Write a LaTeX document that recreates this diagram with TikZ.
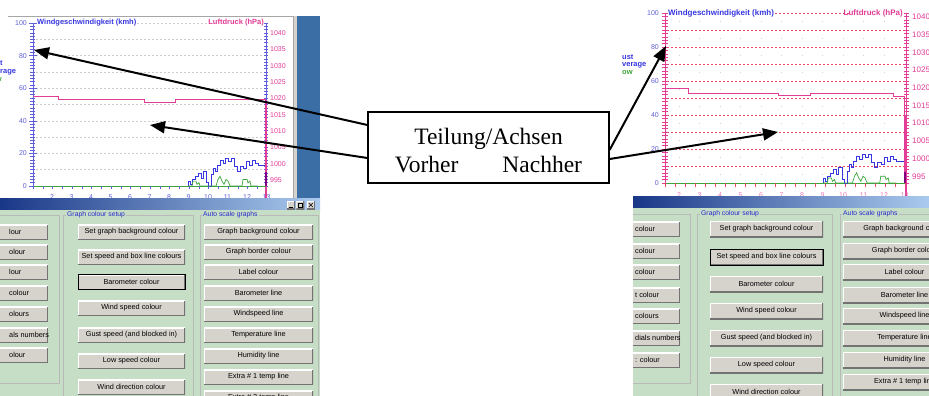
\documentclass[tikz,border=0pt]{standalone}
\usepackage{fontspec}
\setmainfont{Liberation Serif}
\newfontfamily\uifont{Liberation Sans}
\usetikzlibrary{arrows.meta,positioning}

\definecolor{windblue}{RGB}{55,55,225}
\definecolor{labelblue}{RGB}{95,95,215}
\definecolor{presspink}{RGB}{225,60,150}
\definecolor{lowgreen}{RGB}{60,165,60}
\definecolor{gridred}{RGB}{232,70,100}
\definecolor{btnface}{RGB}{214,210,204}
\definecolor{dlggreen}{RGB}{198,221,198}
\definecolor{deskblue}{RGB}{58,110,165}
\definecolor{titledark}{RGB}{25,55,135}
\definecolor{titlelight}{RGB}{170,202,238}
\definecolor{groupblue}{RGB}{40,40,205}

\begin{document}
\begin{tikzpicture}[x=1pt,y=-1pt,
    callout/.style={draw=black,line width=2pt,-{Triangle[length=15pt,width=12pt]}},
    note box/.style={draw=black,line width=1.2pt,fill=white,minimum width=241pt,minimum height=71pt},
    note text/.style={font=\fontsize{23.5}{28}\selectfont,align=center,inner sep=0pt},
    btn/.style={fill=btnface,minimum height=15pt,inner sep=1pt,font=\uifont\fontsize{7.3}{8}\selectfont,
        path picture={\draw[white,line width=2pt] (path picture bounding box.south west) |- (path picture bounding box.north east);
                      \draw[black!55,line width=2pt] (path picture bounding box.south west) -| (path picture bounding box.north east);}},
    focus/.style={draw=black,line width=1pt},
    btn text/.style={font=\uifont\fontsize{7.3}{8}\selectfont,inner sep=0pt},
    group label/.style={fill=dlggreen,text=groupblue,inner sep=1pt,font=\uifont\fontsize{6.8}{8}\selectfont},
    frame/.style={draw=gray!55,line width=.7pt},
    scale label/.style={font=\uifont\fontsize{7}{8}\selectfont,inner sep=0pt},
    chart title/.style={font=\uifont\bfseries\fontsize{7.5}{8}\selectfont,inner sep=1pt},
    grid gray/.style={draw=gray!40,line width=.5pt,dash pattern=on 2pt off 2pt},
    grid red/.style={draw=gridred,line width=.6pt,dash pattern=on 2pt off 2pt},
    axis blue/.style={draw=labelblue,line width=.5pt},
    axis pink/.style={draw=presspink,line width=.5pt},
    press line/.style={draw=presspink,line width=.8pt},
    wind line/.style={draw=windblue,line width=.6pt},
    low line/.style={draw=lowgreen,line width=.7pt},
    ctl/.style={btn,minimum width=8pt,minimum height=8pt,inner sep=0pt}]

\useasboundingbox (0,0) rectangle (929,396);
\fill[white] (0,0) rectangle (929,396);

% ---------- left screenshot (vorher) ----------
\begin{scope}
  \clip (0,0) rectangle (320,396);
  \fill[btnface] (293,16) rectangle (297,198);
  \fill[deskblue] (297,16) rectangle (320,198);
  \draw[gray!70,line width=.8pt] (8,16) -- (293,16) -- (293,198);

  % grid
  \foreach \k in {1,...,9}
    \draw[grid gray] (36,{186-16.3*\k}) -- (265,{186-16.3*\k});
  \draw[grid gray] (137,23) -- (210,23);

  % wind axis
  \draw[axis blue] (33,23) -- (33,186);
  \foreach \k in {0,...,50}
    \draw[axis blue] (30,{186-3.26*\k}) -- (35,{186-3.26*\k});
  \foreach \v [count=\i from 0] in {0,20,...,100} {
    \draw[axis blue] (29,{186-32.6*\i}) -- (37,{186-32.6*\i});
    \node[scale label,text=labelblue,anchor=east] (lwy\i) at (27,{186-32.6*\i}) {\v};
  }

  % pressure axis
  \draw[axis blue] (266,23) -- (266,100);
  \foreach \k in {0,...,50}
    \draw[axis blue] (264,{186-3.26*\k}) -- (268,{186-3.26*\k});
  \draw[presspink,line width=1.5pt] (266,100) -- (266,198);
  \foreach \p [count=\i from 0] in {1040,1035,...,995}
    \node[scale label,text=presspink,anchor=west] (lpy\i) at (270,{33+16.33*\i}) {\p};
  \draw[press line] (33,96) -- (58,96) -- (58,99) -- (144,99) -- (144,102) -- (175,102) -- (175,99) -- (266,99);

  % time axis
  \draw[low line] (33,186) -- (266,186);
  \foreach \k in {0,...,23}
    \draw[axis blue] ({33+9.75*\k},186) -- ({33+9.75*\k},189);
  \foreach \n [count=\i from 0] in {2,...,13}
    \node[scale label,text=labelblue] (lx\n) at ({52+19.5*\i},197) {\n};
  \draw[violet,line width=1.4pt] (266,172) -- (266,186);

  % titles and legend
  \node[chart title,text=windblue,anchor=west] (lwtitle) at (36,23) {Windgeschwindigkeit (kmh)};
  \node[chart title,text=presspink,anchor=east] (lptitle) at (265,23) {Luftdruck (hPa)};
  \node[chart title,text=windblue,anchor=west] (lgust) at (-1,63) {t};
  \node[chart title,text=windblue,anchor=west] (lavg) at (-1,72) {rage};
  \node[chart title,text=lowgreen,anchor=east] (llow) at (3,80) {w};

  % window title bar
  \shade[left color=titledark,right color=titlelight] (0,198) rectangle (320,210);
  \node[ctl] (lmin) at (291,205) {};
  \node[ctl,right=1pt of lmin] (lmax) {};
  \node[ctl,right=2pt of lmax] (lclose) {};
  \draw[black,line width=.8pt] ([shift={(-2pt,-2pt)}]lmin.center) -- ([shift={(1.5pt,-2pt)}]lmin.center);
  \draw[black,line width=.4pt] ([shift={(-2pt,-2pt)}]lmax.center) rectangle ([shift={(2pt,2pt)}]lmax.center);
  \draw[black,line width=.6pt] ([shift={(-2pt,-2pt)}]lclose.center) -- ([shift={(2pt,2pt)}]lclose.center)
                               ([shift={(-2pt,2pt)}]lclose.center) -- ([shift={(2pt,-2pt)}]lclose.center);

  % dialog
  \fill[dlggreen] (0,210) rectangle (320,396);
  \draw[frame] (0,215) -- (59,215) -- (59,383) -- (0,383);
  \draw[frame] (63,400) -- (63,215) -- (193,215) -- (193,400);
  \draw[frame] (200,400) -- (200,215) -- (318,215) -- (318,400);
  \node[group label,anchor=west] (lgraph) at (66,215) {Graph colour setup};
  \node[group label,anchor=west] (lauto) at (202,215) {Auto scale graphs};

  \foreach \y/\t in {232/lour,252/olour,272/lour,293/colour,314/olours,335/als numbers,355/olour} {
    \node[btn,minimum width=60pt,anchor=east] (lb\y) at (48,\y) {};
    \node[btn text,anchor=west] (lbt\y) at (9,\y) {\t};
  }
  \foreach \y/\t in {232/Set graph background colour,257/Set speed and box line colours,
                     308/Wind speed colour,335/Gust speed (and blocked in),361/Low speed colour,387/Wind direction colour}
    \node[btn,minimum width=107pt] (lm\y) at (131.5,\y) {\t};
  \node[btn,focus,minimum width=107pt] (lm282) at (131.5,282) {Barometer colour};
  \foreach \y/\t in {232/Graph background colour,252/Graph border colour,272/Label colour,293/Barometer line,
                     314/Windspeed line,335/Temperature line,356/Humidity line,377/Extra \# 1 temp line,398/Extra \# 2 temp line}
    \node[btn,minimum width=109pt] (la\y) at (258.5,\y) {\t};
\end{scope}

% ---------- right screenshot (nachher) ----------
\begin{scope}
  \clip (618,0) rectangle (929,197);
  % grid
  \foreach \i in {0,...,11}
    \draw[gray!35,line width=.5pt,dash pattern=on 1.5pt off 15.5pt,dash phase=9.25pt] ({679+20.5*\i},13) -- ({679+20.5*\i},183);
  \foreach \k in {1,...,9}
    \draw[grid red] (667,{183-17*\k}) -- (904,{183-17*\k});
  \draw[grid red] (775,13) -- (850,13);

  % wind axis
  \draw[axis pink] (665,13) -- (665,183);
  \foreach \k in {0,...,50}
    \draw[axis pink] (662,{183-3.4*\k}) -- (668,{183-3.4*\k});
  \foreach \v [count=\i from 0] in {0,20,...,100}
    \node[scale label,text=labelblue,anchor=east] (rwy\i) at (659,{183-34*\i}) {\v};

  % pressure axis
  \draw[axis pink] (906,13) -- (906,183);
  \foreach \k in {0,...,50}
    \draw[axis pink] (904,{183-3.4*\k}) -- (909,{183-3.4*\k});
  \draw[presspink,line width=1.5pt] (906,116) -- (906,197);
  \foreach \p [count=\i from 0] in {1040,1035,...,995}
    \node[scale label,text=presspink,anchor=west,font=\uifont\fontsize{8}{9}\selectfont] (rpy\i) at (912,{17+17.7*\i}) {\p};
  \draw[press line] (665,88) -- (688,88) -- (688,93) -- (778,93) -- (778,95) -- (810,95) -- (810,93)
                    -- (893,93) -- (893,96) -- (904,96) -- (904,183);

  % time axis
  \draw[low line] (665,183) -- (905,183);
  \foreach \k in {0,...,24}
    \draw[gridred,line width=.6pt] ({665+10*\k},183) -- ({665+10*\k},187);
  \foreach \n [count=\i from 0] in {2,...,13}
    \node[scale label,text=presspink!70] (rx\n) at ({679+20.5*\i},195) {\n};
  \draw[violet,line width=1.4pt] (905,172) -- (905,183);

  % titles and legend
  \node[chart title,text=windblue,anchor=west,font=\uifont\bfseries\fontsize{8}{9}\selectfont] (rwtitle) at (667,13) {Windgeschwindigkeit (kmh)};
  \node[chart title,text=presspink,anchor=east,font=\uifont\bfseries\fontsize{8}{9}\selectfont] (rptitle) at (904,13) {Luftdruck (hPa)};
  \node[chart title,text=windblue,anchor=west] (rgust) at (621,57) {ust};
  \node[chart title,text=windblue,anchor=west] (ravg) at (621,65) {verage};
  \node[chart title,text=lowgreen,anchor=west] (rlow) at (621,73) {ow};
\end{scope}

\begin{scope}
  \clip (633,196) rectangle (929,396);
  \shade[left color=titledark,right color=titlelight] (633,196) rectangle (929,208);
  \fill[dlggreen] (633,208) rectangle (929,396);
  \draw[frame] (633,214) -- (690,214) -- (690,383) -- (633,383);
  \draw[frame] (697,400) -- (697,214) -- (832,214) -- (832,400);
  \draw[frame] (840,400) -- (840,214) -- (935,214);
  \node[group label,anchor=west] (rgraph) at (700,214) {Graph colour setup};
  \node[group label,anchor=west] (rauto) at (842,214) {Auto scale graphs};

  \foreach \y/\t in {229/colour,251/colour,272/colour,295/t colour,316/colours,338/dials numbers,360/: colour} {
    \node[btn,minimum width=55pt,anchor=east] (rb\y) at (680,\y) {};
    \node[btn text,anchor=west] (rbt\y) at (635,\y) {\t};
  }
  \foreach \y/\t in {229/Set graph background colour,284/Barometer colour,311/Wind speed colour,
                     338/Gust speed (and blocked in),365/Low speed colour,392/Wind direction colour}
    \node[btn,minimum width=113pt,minimum height=16pt] (rm\y) at (766.5,\y) {\t};
  \node[btn,focus,minimum width=113pt,minimum height=16pt] (rm257) at (766.5,257) {Set speed and box line colours};
  \foreach \y/\t in {229/Graph background colour,251/Graph border colour,272/Label colour,295/Barometer line,
                     316/Windspeed line,338/Temperature line,360/Humidity line,382/Extra \# 1 temp line}
    \node[btn,minimum width=123pt,minimum height=16pt] (ra\y) at (904.5,\y) {\t};
\end{scope}

% ---------- wind data, both charts ----------
\foreach \sx/\sc/\sy/\vs in {0/1/186/1.63,625.4/1.051/183/1.7} {
  \begin{scope}[shift={(\sx,\sy)},xscale=\sc,yscale=-\vs]
    \draw[wind line] (188,0) -- (188,3) -- (190,3) -- (190,1) -- (192,1) -- (192,4) -- (195,4) -- (195,6)
      -- (198,6) -- (198,8) -- (201,8) -- (201,5) -- (203,5) -- (203,9) -- (206,9) -- (206,2) -- (208,2)
      -- (208,0) -- (211,0) -- (211,7) -- (213,7) -- (213,11) -- (215,11) -- (215,9) -- (217,9) -- (217,13)
      -- (220,13) -- (220,16) -- (223,16) -- (223,14) -- (225,14) -- (225,17) -- (228,17) -- (228,15)
      -- (231,15) -- (231,17) -- (234,17) -- (234,12) -- (237,12) -- (237,9) -- (240,9) -- (240,12)
      -- (243,12) -- (243,11) -- (246,11) -- (246,15) -- (249,15) -- (249,13) -- (252,13) -- (252,16)
      -- (255,16) -- (255,14) -- (258,14) -- (258,13) -- (265,13);
    \draw[low line] (188,0) -- (192,0) -- (193,3) -- (196,3) -- (197,1) -- (199,2) -- (200,0) -- (216,0)
      -- (218,4) -- (220,6) -- (222,3) -- (224,1) -- (226,4) -- (228,3) -- (230,0) -- (242,0) -- (243,4)
      -- (247,4) -- (248,2) -- (250,3) -- (251,0) -- (258,0);
  \end{scope}
}

% ---------- annotation ----------
\node (note) [note box] at (488.5,147.5) {};
\node (notetext) [note text] at ([yshift=-3.5pt]note.center) {Teilung/Achsen\\Vorher\hspace{44pt}Nachher};

\coordinate (tipA) at (34,50);
\coordinate (tipB) at (150,125);
\coordinate (tipC) at (666,46);
\coordinate (tipD) at (778,132);

\draw[callout] ([yshift=22.5pt]note.west) -- (tipA);
\draw[callout] ([yshift=-10.5pt]note.west) -- (tipB);
\draw[callout] ([yshift=-2.5pt]note.east) -- (tipC);
\draw[callout] ([yshift=-11.5pt]note.east) -- (tipD);
\end{tikzpicture}
\end{document}
